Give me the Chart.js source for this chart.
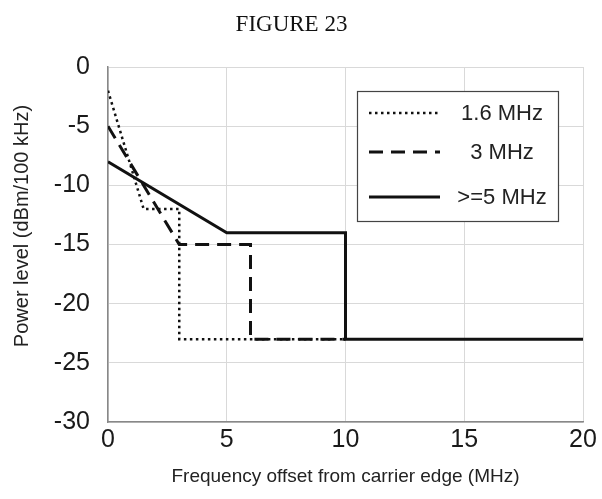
<!DOCTYPE html>
<html>
<head>
<meta charset="utf-8">
<title>FIGURE 23</title>
<script src="https://cdn.jsdelivr.net/npm/chart.js"></script>
<style>
  html, body { margin: 0; padding: 0; background: #fff; }
  #wrap { width: 602px; height: 499px; }
</style>
</head>
<body>
<div id="wrap"><canvas id="maskChart" width="602" height="499"></canvas></div>
<script>
// Spectrum emission mask data
const seriesNames = ['1.6 MHz', '3 MHz', '>=5 MHz'];

const freq16 = [0, 1.5, 3, 3, 10];
const level16 = [-2, -12, -12, -23, -23];

const freq3 = [0, 3, 6, 6, 10];
const level3 = [-5, -15, -15, -23, -23];

const freq5 = [0, 5, 10, 10, 20];
const level5 = [-8, -14, -14, -23, -23];

const xTicks = [0, 5, 10, 15, 20];
const yTicks = [0, -5, -10, -15, -20, -25, -30];

const yTitle = 'Power level (dBm/100 kHz)';

function toPoints(xs, ys) {
    return xs.map((x, i) => ({ x: x, y: ys[i] }));
}

const FONT = 'Liberation Sans, Arial, sans-serif';

// Legend drawn inside the plot, like the original figure
const boxLegend = {
    id: 'boxLegend',
    afterDraw(chart) {
        const ctx = chart.ctx;
        const area = chart.chartArea;
        const left = area.right - 226;
        const top = area.top + 24;
        const w = 201, h = 130;
        ctx.save();
        ctx.fillStyle = '#fff';
        ctx.fillRect(left, top, w, h);
        ctx.strokeStyle = '#444';
        ctx.lineWidth = 1.2;
        ctx.strokeRect(left + 0.5, top + 0.5, w, h);

        const rows = [22, 61, 106];
        chart.data.datasets.forEach((ds, i) => {
            const y = top + rows[i];
            ctx.beginPath();
            ctx.setLineDash(ds.borderDash || []);
            ctx.lineWidth = ds.borderWidth;
            ctx.strokeStyle = ds.borderColor;
            ctx.moveTo(left + 12, y);
            ctx.lineTo(left + 83, y);
            ctx.stroke();
            ctx.setLineDash([]);
            ctx.fillStyle = '#222';
            ctx.font = '22px ' + FONT;
            ctx.textAlign = 'center';
            ctx.textBaseline = 'middle';
            ctx.fillText(ds.label, left + 145, y + 1);
        });
        ctx.restore();
    }
};

// y axis title sits a little above the middle of the axis in the original
const sideTitle = {
    id: 'sideTitle',
    afterDraw(chart) {
        const ctx = chart.ctx;
        const area = chart.chartArea;
        ctx.save();
        ctx.translate(22, area.top + 159);
        ctx.rotate(-Math.PI / 2);
        ctx.fillStyle = '#222';
        ctx.font = '20px ' + FONT;
        ctx.textAlign = 'center';
        ctx.textBaseline = 'middle';
        ctx.fillText(yTitle, 0, 0);
        ctx.restore();
    }
};

const ctx = document.getElementById('maskChart').getContext('2d');
new Chart(ctx, {
    type: 'line',
    data: {
        datasets: [
            {
                label: seriesNames[0],
                data: toPoints(freq16, level16),
                borderColor: '#111',
                borderWidth: 2.5,
                borderDash: [2.5, 3.5],
                pointRadius: 0,
                tension: 0,
                fill: false
            },
            {
                label: seriesNames[1],
                data: toPoints(freq3, level3),
                borderColor: '#111',
                borderWidth: 3,
                borderDash: [14, 8],
                pointRadius: 0,
                tension: 0,
                fill: false
            },
            {
                label: seriesNames[2],
                data: toPoints(freq5, level5),
                borderColor: '#111',
                borderWidth: 3,
                pointRadius: 0,
                tension: 0,
                fill: false
            }
        ]
    },
    options: {
        responsive: false,
        animation: false,
        devicePixelRatio: 1,
        layout: {
            padding: { left: 0, right: 19, top: 0, bottom: 0 }
        },
        plugins: {
            legend: { display: false },
            tooltip: { enabled: false },
            title: {
                display: true,
                text: 'FIGURE 23',
                color: '#111',
                font: { family: 'Liberation Serif, Times New Roman, serif', size: 23, weight: 'normal' },
                padding: { top: 11, bottom: 28.4 }
            }
        },
        scales: {
            x: {
                type: 'linear',
                min: xTicks[0],
                max: xTicks[xTicks.length - 1],
                afterBuildTicks: (scale) => {
                    scale.ticks = xTicks.map(v => ({ value: v }));
                },
                afterFit: (scale) => { scale.height = 77; },
                grid: { color: '#d9d9d9', lineWidth: 1, drawTicks: false },
                border: { color: '#888', width: 1.5 },
                ticks: {
                    color: '#1a1a1a',
                    padding: 3,
                    maxRotation: 0,
                    font: { family: FONT, size: 25 }
                },
                title: {
                    display: true,
                    text: 'Frequency offset from carrier edge (MHz)',
                    color: '#222',
                    font: { family: FONT, size: 19 },
                    padding: { top: 0, bottom: 11 }
                }
            },
            y: {
                type: 'linear',
                min: yTicks[yTicks.length - 1],
                max: yTicks[0],
                afterBuildTicks: (scale) => {
                    scale.ticks = yTicks.slice().reverse().map(v => ({ value: v }));
                },
                afterFit: (scale) => { scale.width = 108; },
                grid: { color: '#d9d9d9', lineWidth: 1, drawTicks: false },
                border: { color: '#888', width: 1.5 },
                ticks: {
                    color: '#1a1a1a',
                    padding: 18,
                    font: { family: FONT, size: 25 }
                },
                title: { display: false }
            }
        }
    },
    plugins: [boxLegend, sideTitle]
});
</script>
</body>
</html>
